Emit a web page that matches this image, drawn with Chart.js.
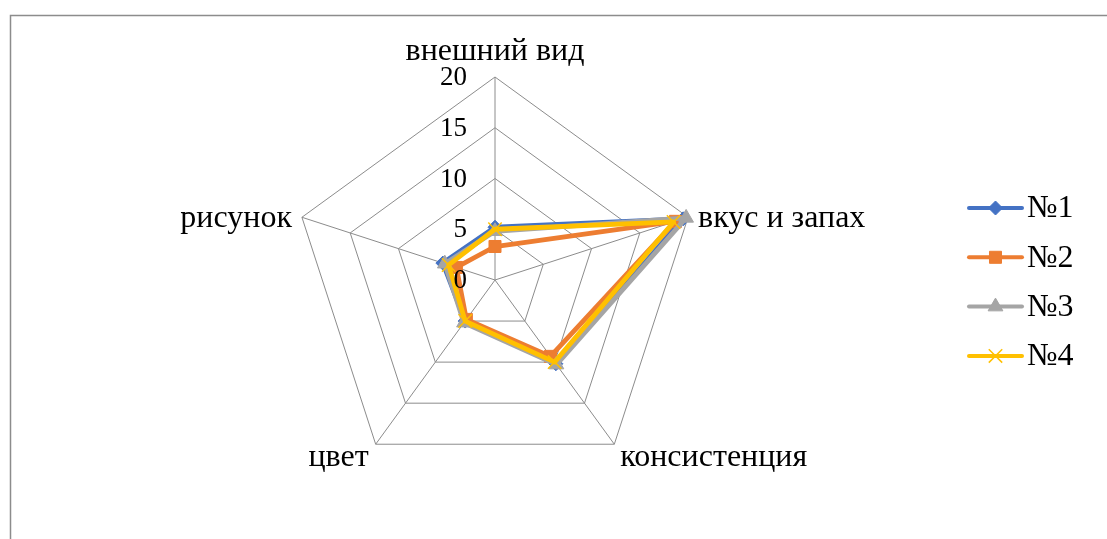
<!DOCTYPE html>
<html>
<head>
<meta charset="utf-8">
<script src="https://cdn.jsdelivr.net/npm/chart.js@4/dist/chart.umd.min.js"></script>
<style>
html,body{margin:0;padding:0;background:#fff;}
canvas{display:block;}
</style>
</head>
<body>
<canvas id="c" width="1107" height="539"></canvas>
<script>
const categories = ["внешний вид", "вкус и запах", "консистенция", "цвет", "рисунок"];
const seriesNames = ["№1", "№2", "№3", "№4"];
const s1 = [5.2, 19.5, 10.2, 5.0, 5.4];
const s2 = [3.3, 18.7, 9.3, 4.8, 4.0];
const s3 = [4.8, 19.8, 10.3, 5.2, 5.2];
const s4 = [5.0, 18.5, 10.0, 5.0, 4.8];
const tickValues = [0, 5, 10, 15, 20];

const colors = ["#4472C4", "#ED7D31", "#A5A5A5", "#FFC000"];
const styles = ["rectRot", "rect", "triangle", "crossRot"];
const radii = [7, 8.5, 8.5, 9.5];
const FONT = '"Liberation Serif", "Times New Roman", serif';
const FS = 32;
const TFS = 27;

const values = [s1, s2, s3, s4];
const datasets = values.map((v, i) => ({
  label: seriesNames[i],
  data: v,
  borderColor: colors[i],
  backgroundColor: colors[i],
  pointBackgroundColor: colors[i],
  pointBorderColor: colors[i],
  pointStyle: styles[i],
  pointRadius: radii[i],
  pointBorderWidth: i === 3 ? 1.5 : 1,
  borderWidth: 4.8,
  fill: false,
  tension: 0,
  order: 4 - i
}));

const layoutPlugin = {
  id: 'fixLayout',
  afterLayout(chart) {
    const r = chart.scales.r;
    r.xCenter = 495;
    r.yCenter = 280;
    r.drawingArea = 203;
  }
};

const decorPlugin = {
  id: 'decor',
  beforeDraw(chart) {
    const ctx = chart.ctx;
    ctx.save();
    ctx.fillStyle = '#fff';
    ctx.fillRect(0, 0, chart.width, chart.height);
    ctx.strokeStyle = '#8c8c8c';
    ctx.lineWidth = 1.5;
    ctx.strokeRect(10.5, 15.5, 1200, 700);
    ctx.restore();
  },
  afterDraw(chart) {
    const ctx = chart.ctx;
    const r = chart.scales.r;
    ctx.save();
    ctx.fillStyle = '#000';
    // tick labels
    ctx.font = TFS + 'px ' + FONT;
    ctx.textAlign = 'right';
    ctx.textBaseline = 'middle';
    tickValues.forEach(t => {
      const d = r.getDistanceFromCenterForValue(t);
      ctx.fillText(String(t), r.xCenter - 28, r.yCenter - d + 1);
    });
    // point labels
    ctx.font = FS + 'px ' + FONT;
    const offs = [
      {dx: 0, dy: -25, align: 'center'},
      {dx: 10, dy: 1, align: 'left'},
      {dx: 6, dy: 13, align: 'left'},
      {dx: -7, dy: 13, align: 'right'},
      {dx: -10, dy: 1, align: 'right'}
    ];
    categories.forEach((c, i) => {
      const p = r.getPointPosition(i, r.drawingArea);
      ctx.textAlign = offs[i].align;
      ctx.textBaseline = 'middle';
      ctx.fillText(c, p.x + offs[i].dx, p.y + offs[i].dy);
    });
    // legend
    const lx0 = 969, lx1 = 1022, ly0 = 208, lstep = 49.3;
    seriesNames.forEach((n, i) => {
      const y = ly0 + i * lstep;
      ctx.strokeStyle = colors[i];
      ctx.lineWidth = 4;
      ctx.lineCap = 'round';
      ctx.beginPath();
      ctx.moveTo(lx0, y);
      ctx.lineTo(lx1, y);
      ctx.stroke();
      ctx.fillStyle = colors[i];
      ctx.strokeStyle = colors[i];
      ctx.lineWidth = i === 3 ? 1.5 : 1;
      ctx.lineCap = 'butt';
      Chart.helpers.drawPoint(ctx, {pointStyle: styles[i], radius: radii[i], rotation: 0, borderWidth: i === 3 ? 1.5 : 1}, (lx0 + lx1) / 2, y);
      ctx.fillStyle = '#000';
      ctx.textAlign = 'left';
      ctx.textBaseline = 'middle';
      ctx.fillText(n, 1027, y + 1);
    });
    ctx.restore();
  }
};

new Chart(document.getElementById('c'), {
  type: 'radar',
  data: { labels: categories, datasets: datasets },
  options: {
    responsive: false,
    animation: false,
    events: [],
    plugins: { legend: { display: false }, tooltip: { enabled: false } },
    elements: { line: { borderJoinStyle: 'round' } },
    scales: {
      r: {
        min: 0,
        max: 20,
        ticks: { stepSize: 5, display: false },
        pointLabels: { display: false },
        grid: { color: '#8c8c8c', lineWidth: 1, circular: false },
        angleLines: { color: '#8c8c8c', lineWidth: 1 }
      }
    }
  },
  plugins: [layoutPlugin, decorPlugin]
});
</script>
</body>
</html>
